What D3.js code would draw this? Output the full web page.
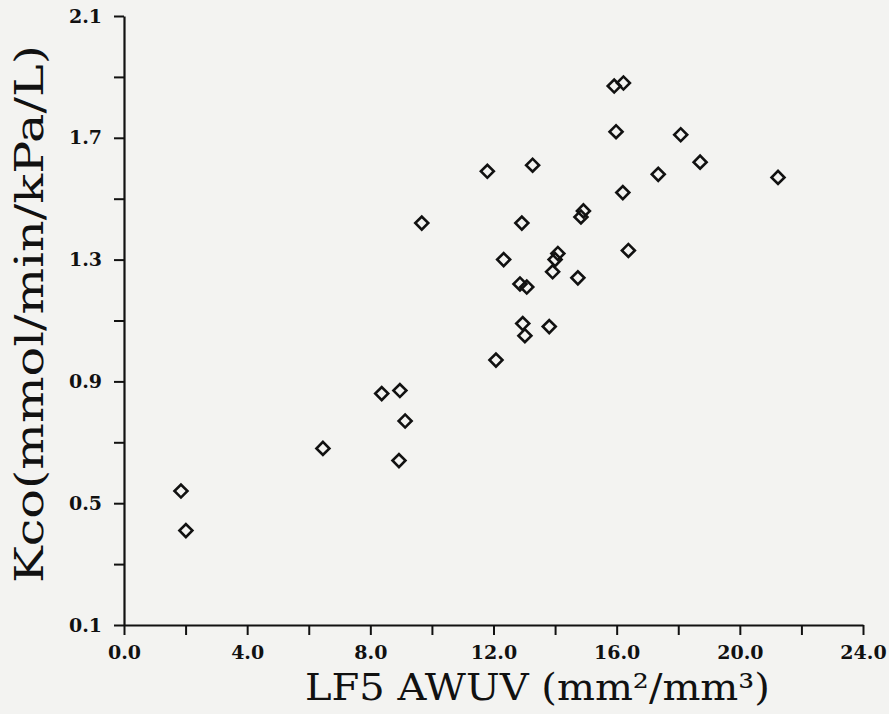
<!DOCTYPE html>
<html>
<head>
<meta charset="utf-8">
<script src="https://cdn.jsdelivr.net/npm/d3@7"></script>
<style>
  html, body { margin: 0; padding: 0; background: #f3f3f1; }
  svg { display: block; }
</style>
</head>
<body>
<svg id="chart" width="889" height="714"></svg>
<script>
// LF5 airway wall per unit volume vs. carbon monoxide transfer coefficient
const awuv = [1.85, 2.01, 6.46, 8.37, 8.96, 9.13, 8.93, 9.67, 11.80, 13.27,
              12.33, 12.92, 12.86, 13.08, 12.95, 13.02, 12.08, 13.81, 13.92, 14.09,
              14.00, 14.74, 14.92, 14.84, 15.92, 16.22, 15.98, 16.20, 16.38, 17.35,
              18.08, 18.71, 21.24];
const kco  = [0.54, 0.41, 0.68, 0.86, 0.87, 0.77, 0.64, 1.42, 1.59, 1.61,
              1.30, 1.42, 1.22, 1.21, 1.09, 1.05, 0.97, 1.08, 1.26, 1.32,
              1.30, 1.24, 1.46, 1.44, 1.87, 1.88, 1.72, 1.52, 1.33, 1.58,
              1.71, 1.62, 1.57];

const xTicks = [0, 2, 4, 6, 8, 10, 12, 14, 16, 18, 20, 22, 24];
const xLabels = [0, 4, 8, 12, 16, 20, 24];
const yTicks = [0.1, 0.3, 0.5, 0.7, 0.9, 1.1, 1.3, 1.5, 1.7, 1.9, 2.1];
const yLabels = [0.1, 0.5, 0.9, 1.3, 1.7, 2.1];

const xTitle = "LF5 AWUV (mm²/mm³)";
const yTitle = "Kco(mmol/min/kPa/L)";

const svg = d3.select("#chart");
const margin = { left: 124, right: 26, top: 16, bottom: 89 };
const W = 889, H = 714;

const x = d3.scaleLinear().domain([0, 24]).range([margin.left, W - margin.right]);
const y = d3.scaleLinear().domain([0.1, 2.1]).range([H - margin.bottom, margin.top]);

const ink = "#111";
const serif = "'DejaVu Serif', serif";

// x axis
const gx = svg.append("g").attr("transform", `translate(0,${y(0.1)})`)
  .call(d3.axisBottom(x).tickValues(xTicks).tickSize(10).tickSizeOuter(0)
    .tickPadding(11)
    .tickFormat(d => xLabels.includes(d) ? d3.format(".1f")(d) : ""));
// y axis
const gy = svg.append("g").attr("transform", `translate(${x(0)},0)`)
  .call(d3.axisLeft(y).tickValues(yTicks).tickSize(10).tickSizeOuter(0)
    .tickPadding(12)
    .tickFormat(d => yLabels.some(v => Math.abs(v - d) < 1e-9) ? d3.format(".1f")(d) : ""));

[gx, gy].forEach(g => {
  g.select(".domain").attr("stroke", ink).attr("stroke-width", 2.2);
  g.selectAll(".tick line").attr("stroke", ink).attr("stroke-width", 2);
  g.selectAll(".tick text").attr("fill", ink)
    .style("font-family", serif).style("font-weight", "bold").style("font-size", "19px");
});

// diamond markers
const diamond = d3.symbol().type(d3.symbolSquare).size(84);
svg.append("g").selectAll("path")
  .data(awuv.map((v, i) => [v, kco[i]]))
  .join("path")
  .attr("d", diamond)
  .attr("transform", d => `translate(${x(d[0])},${y(d[1])}) rotate(45)`)
  .attr("fill", "none")
  .attr("stroke", ink)
  .attr("stroke-width", 2.6);

// axis titles
svg.append("text")
  .attr("x", 537.5).attr("y", 700)
  .attr("text-anchor", "middle")
  .attr("textLength", 465).attr("lengthAdjust", "spacingAndGlyphs")
  .style("font-family", serif).style("font-size", "37px").attr("fill", ink)
  .text(xTitle);

svg.append("text")
  .attr("transform", `translate(43,314) rotate(-90)`)
  .attr("text-anchor", "middle")
  .attr("textLength", 538).attr("lengthAdjust", "spacingAndGlyphs")
  .style("font-family", serif).style("font-size", "39px").attr("fill", ink)
  .text(yTitle);
</script>
</body>
</html>
